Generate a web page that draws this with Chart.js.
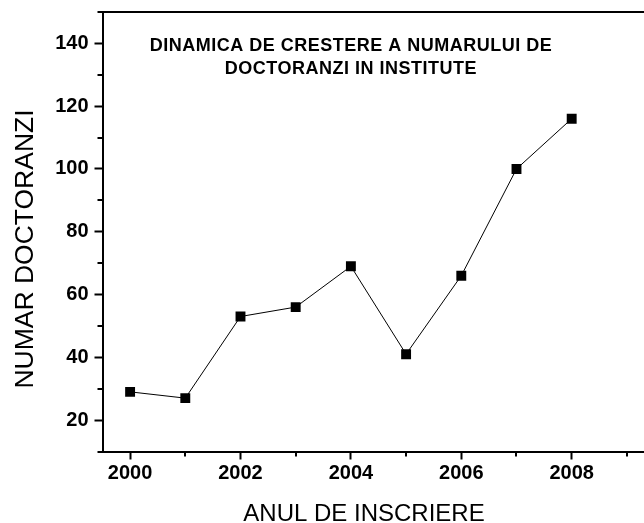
<!DOCTYPE html>
<html>
<head>
<meta charset="utf-8">
<script src="https://cdn.jsdelivr.net/npm/chart.js@4.4.0/dist/chart.umd.min.js"></script>
<style>
  html, body { margin: 0; padding: 0; background: #fff; }
  #wrap { width: 644px; height: 523px; }
</style>
</head>
<body>
<div id="wrap"><canvas id="doctorChart" width="644" height="523"></canvas></div>
<script>
// values
const years = [2000, 2001, 2002, 2003, 2004, 2005, 2006, 2007, 2008];
const doctoranzi = [29, 27, 53, 56, 69, 41, 66, 100, 116];

const yearTicks = [2000, 2002, 2004, 2006, 2008];
const yearMinorTicks = [2001, 2003, 2005, 2007, 2009];
const countTicks = [20, 40, 60, 80, 100, 120, 140];
const countMinorTicks = [10, 30, 50, 70, 90, 110, 130, 150];

const chartTitle = ["DINAMICA DE CRESTERE A NUMARULUI DE", "DOCTORANZI IN INSTITUTE"];
const xTitle = "ANUL DE INSCRIERE";
const yTitle = "NUMAR DOCTORANZI";

const FONT = "'Liberation Sans', Arial, sans-serif";

// top frame line, short minor ticks and the texts
const decorPlugin = {
  id: "decor",
  afterDraw(chart) {
    const { ctx, chartArea, scales } = chart;
    ctx.save();
    ctx.strokeStyle = "#000";
    ctx.lineWidth = 2;
    ctx.beginPath();
    ctx.moveTo(chartArea.left - 5, chartArea.top);
    ctx.lineTo(chartArea.right, chartArea.top);
    yearMinorTicks.forEach((v) => {
      const x = Math.round(scales.x.getPixelForValue(v));
      ctx.moveTo(x, chartArea.bottom);
      ctx.lineTo(x, chartArea.bottom + 5);
    });
    countMinorTicks.forEach((v) => {
      const y = Math.round(scales.y.getPixelForValue(v));
      ctx.moveTo(chartArea.left, y);
      ctx.lineTo(chartArea.left - 5, y);
    });
    ctx.stroke();

    ctx.fillStyle = "#000";
    ctx.textAlign = "center";
    ctx.textBaseline = "alphabetic";

    // title inside the plot
    ctx.font = "bold 18px " + FONT;
    ctx.letterSpacing = "0.5px";
    const cx = scales.x.getPixelForValue(2004);
    ctx.fillText(chartTitle[0], cx, chartArea.top + 39);
    ctx.fillText(chartTitle[1], cx, chartArea.top + 62);
    ctx.letterSpacing = "0px";

    // axis titles
    ctx.font = "24px " + FONT;
    ctx.fillText(xTitle, 364, 521);

    ctx.font = "26.5px " + FONT;
    ctx.translate(33, 249);
    ctx.rotate(-Math.PI / 2);
    ctx.fillText(yTitle, 0, 0);
    ctx.restore();
  },
};

const ctx = document.getElementById("doctorChart").getContext("2d");
new Chart(ctx, {
  type: "line",
  data: {
    datasets: [
      {
        label: "Doctoranzi",
        data: years.map((y, i) => ({ x: y, y: doctoranzi[i] })),
        borderColor: "#000",
        borderWidth: 1,
        tension: 0,
        pointStyle: "rect",
        pointRadius: 7,
        pointBackgroundColor: "#000",
        pointBorderWidth: 0,
      },
    ],
  },
  options: {
    responsive: false,
    animation: false,
    devicePixelRatio: 1,
    layout: { autoPadding: false, padding: { left: 0, top: 12, right: 0, bottom: 0 } },
    scales: {
      x: {
        type: "linear",
        min: 1999.5,
        max: 2009.31,
        afterBuildTicks: (scale) => {
          scale.ticks = yearTicks.map((v) => ({ value: v }));
        },
        afterFit: (scale) => {
          scale.height = 71.5;
          scale.paddingLeft = 0;
          scale.paddingRight = 0;
        },
        border: { display: true, color: "#000", width: 2 },
        grid: {
          drawOnChartArea: false,
          drawTicks: true,
          tickLength: 8,
          tickWidth: 2,
          tickColor: "#000",
        },
        ticks: {
          color: "#000",
          padding: 2,
          maxRotation: 0,
          font: { family: FONT, size: 20, weight: "bold" },
          callback: (v) => String(v),
        },
      },
      y: {
        min: 10,
        max: 150,
        afterBuildTicks: (scale) => {
          scale.ticks = countTicks.map((v) => ({ value: v }));
        },
        afterFit: (scale) => {
          scale.width = 102.5;
          scale.paddingTop = 0;
          scale.paddingBottom = 0;
        },
        border: { display: true, color: "#000", width: 2 },
        grid: {
          drawOnChartArea: false,
          drawTicks: true,
          tickLength: 8,
          tickWidth: 2,
          tickColor: "#000",
        },
        ticks: {
          color: "#000",
          padding: 6,
          font: { family: FONT, size: 20, weight: "bold" },
        },
      },
    },
    plugins: {
      legend: { display: false },
      tooltip: { enabled: false },
    },
  },
  plugins: [decorPlugin],
});
</script>
</body>
</html>
